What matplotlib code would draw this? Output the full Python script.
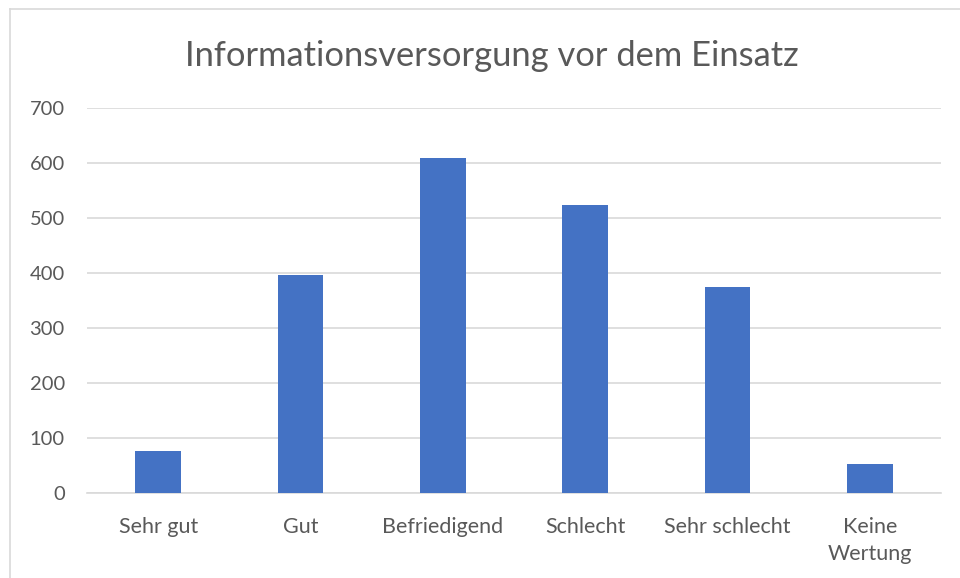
import matplotlib
matplotlib.use("Agg")
import matplotlib.pyplot as plt
from matplotlib.lines import Line2D

# values
categories = ["Sehr gut", "Gut", "Befriedigend", "Schlecht", "Sehr schlecht", "Keine\nWertung"]
counts = [77, 396, 609, 524, 375, 53]
yticks = [0, 100, 200, 300, 400, 500, 600, 700]

plt.rcParams['font.family'] = ['Lato', 'DejaVu Sans']

fig = plt.figure(figsize=(9.6, 5.78), dpi=100)
ax = fig.add_axes([87/960, 1 - 493/578, (941 - 87)/960, (493 - 108)/578])

x = list(range(len(categories)))
ax.bar(x, counts, width=0.32, color='#4472C4', zorder=3)

ax.set_xlim(-0.5, len(categories) - 0.5)
ax.set_ylim(0, 700)
ax.set_yticks(yticks)
ax.set_xticks(x)
ax.set_xticklabels(categories, linespacing=1.45)
ax.grid(axis='y', color='#d9d9d9', linewidth=1.2, zorder=0)
for s in ['top', 'right', 'left']:
    ax.spines[s].set_visible(False)
ax.spines['bottom'].set_color('#d9d9d9')
ax.spines['bottom'].set_linewidth(1.2)
ax.tick_params(axis='both', length=0, colors='#595959')
ax.tick_params(axis='y', pad=16, labelsize=14.5)
ax.tick_params(axis='x', pad=17, labelsize=15.5)

# title of the chart
fig.text(492/960, 1 - 56/578, "Informationsversorgung vor dem Einsatz",
         ha='center', va='center', fontsize=24.8, color='#595959')

# chart area border (cut off at right / bottom)
fig.add_artist(Line2D([10/960, 10/960], [1 - 9/578, 0], color='#d9d9d9', linewidth=1.2,
                      transform=fig.transFigure))
fig.add_artist(Line2D([10/960, 1], [1 - 9/578, 1 - 9/578], color='#d9d9d9', linewidth=1.2,
                      transform=fig.transFigure))

fig.savefig("out.png", dpi=100)
